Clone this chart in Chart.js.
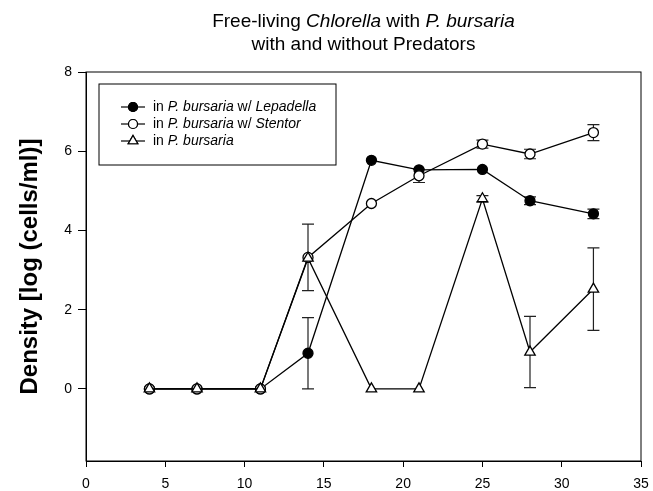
<!DOCTYPE html>
<html>
<head>
<meta charset="utf-8">
<script src="https://cdn.jsdelivr.net/npm/chart.js@4.4.0/dist/chart.umd.min.js"></script>
<style>
  html, body { margin: 0; padding: 0; background: #fff; }
  #wrap { width: 653px; height: 491px; }
</style>
</head>
<body>
<div id="wrap"><canvas id="chart"></canvas></div>
<script>
// days of sampling
const days = [4, 7, 11, 14, 18, 21, 25, 28, 32];
// log density
const lepadella    = [0, 0, 0, 0.9, 5.77, 5.53, 5.54, 4.75, 4.42];
const lepadellaErr = [0, 0, 0, 0.9, 0, 0, 0, 0.1, 0.12];
const stentor      = [0, 0, 0, 3.32, 4.68, 5.38, 6.18, 5.93, 6.47];
const stentorErr   = [0, 0, 0, 0.84, 0, 0.17, 0.1, 0.12, 0.2];
const bursaria     = [0, 0, 0, 3.3, 0, 0, 4.8, 0.93, 2.52];
const bursariaErr  = [0, 0, 0, 0, 0, 0, 0.08, 0.9, 1.04];
const yTicks = [0, 2, 4, 6, 8];

const FONT = 'Arial, "Liberation Sans", sans-serif';

const toPoints = (vals) => vals.map((v, i) => ({ x: days[i], y: v }));

// error bars + frame
const errorBars = {
  id: 'errorBars',
  beforeDatasetsDraw(chart) {
    const { ctx, scales: { x, y } } = chart;
    ctx.save();
    ctx.strokeStyle = '#222';
    ctx.lineWidth = 1.2;
    chart.data.datasets.forEach((ds) => {
      ds.err.forEach((e, i) => {
        if (!e) return;
        const px = x.getPixelForValue(days[i]);
        const top = y.getPixelForValue(ds.data[i].y + e);
        const bot = y.getPixelForValue(Math.max(ds.data[i].y - e, 0));
        ctx.beginPath();
        ctx.moveTo(px, top); ctx.lineTo(px, bot);
        ctx.moveTo(px - 6, top); ctx.lineTo(px + 6, top);
        ctx.moveTo(px - 6, bot); ctx.lineTo(px + 6, bot);
        ctx.stroke();
      });
    });
    ctx.restore();
  },
  afterDraw(chart) {
    const { ctx, chartArea: a } = chart;
    ctx.save();
    ctx.strokeStyle = '#000';
    ctx.lineWidth = 1;
    ctx.strokeRect(a.left, a.top, a.right - a.left, a.bottom - a.top);
    ctx.restore();
  }
};

// draw a run of text pieces, some italic
function drawRuns(ctx, runs, x, y, size, align) {
  const fontOf = (it) => (it ? 'italic ' : '') + size + 'px ' + FONT;
  let total = 0;
  runs.forEach(([t, it]) => { ctx.font = fontOf(it); total += ctx.measureText(t).width; });
  let cx = align === 'center' ? x - total / 2 : x;
  ctx.textAlign = 'left';
  ctx.textBaseline = 'middle';
  runs.forEach(([t, it]) => {
    ctx.font = fontOf(it);
    ctx.fillText(t, cx, y);
    cx += ctx.measureText(t).width;
  });
}

const titleLegend = {
  id: 'titleLegend',
  afterDraw(chart) {
    const { ctx, chartArea: a } = chart;
    ctx.save();
    ctx.fillStyle = '#000';
    const mid = (a.left + a.right) / 2;
    drawRuns(ctx, [['Free-living ', false], ['Chlorella', true], [' with ', false], ['P. bursaria', true]], mid, 22, 19, 'center');
    drawRuns(ctx, [['with and without Predators', false]], mid, 45, 19, 'center');

    // legend box
    const bx = a.left + 13, by = a.top + 12, bw = 237, bh = 81;
    ctx.strokeStyle = '#000';
    ctx.lineWidth = 1;
    ctx.strokeRect(bx, by, bw, bh);
    const rows = [
      { runs: [['in ', false], ['P. bursaria', true], [' w/ ', false], ['Lepadella', true]], style: 'circle', fill: '#000' },
      { runs: [['in ', false], ['P. bursaria', true], [' w/ ', false], ['Stentor', true]], style: 'circle', fill: '#fff' },
      { runs: [['in ', false], ['P. bursaria', true]], style: 'triangle', fill: '#fff' }
    ];
    rows.forEach((r, i) => {
      const ry = by + 23 + i * 17;
      ctx.strokeStyle = '#000';
      ctx.lineWidth = 1.2;
      ctx.beginPath();
      ctx.moveTo(bx + 22, ry); ctx.lineTo(bx + 46, ry);
      ctx.stroke();
      ctx.fillStyle = r.fill;
      Chart.helpers.drawPoint(ctx, { pointStyle: r.style, radius: r.style === 'triangle' ? 5.5 : 4.5, borderWidth: 1.3 }, bx + 34, ry);
      ctx.fill();
      ctx.stroke();
      ctx.fillStyle = '#000';
      drawRuns(ctx, r.runs, bx + 54, ry, 14, 'left');
    });
    ctx.restore();
  }
};

const base = {
  borderColor: '#000',
  borderWidth: 1.3,
  pointBorderColor: '#000',
  pointBorderWidth: 1.3,
  showLine: true,
  tension: 0
};

new Chart(document.getElementById('chart'), {
  type: 'scatter',
  data: {
    datasets: [
      { ...base, label: 'in P. bursaria w/ Lepadella', data: toPoints(lepadella), err: lepadellaErr, order: 3,
        pointStyle: 'circle', pointRadius: 5, pointBackgroundColor: '#000' },
      { ...base, label: 'in P. bursaria w/ Stentor', data: toPoints(stentor), err: stentorErr, order: 2,
        pointStyle: 'circle', pointRadius: 5, pointBackgroundColor: '#fff' },
      { ...base, label: 'in P. bursaria', data: toPoints(bursaria), err: bursariaErr, order: 1,
        pointStyle: 'triangle', pointRadius: 6, pointBackgroundColor: '#fff' }
    ]
  },
  options: {
    responsive: true,
    maintainAspectRatio: false,
    animation: false,
    layout: { padding: { left: 16, right: 12, top: 72, bottom: 0 } },
    plugins: { legend: { display: false }, tooltip: { enabled: false } },
    scales: {
      x: {
        type: 'linear',
        min: 0, max: 35,
        ticks: { stepSize: 5, color: '#000', font: { family: FONT, size: 14 }, padding: 9, maxRotation: 0 },
        grid: { drawOnChartArea: false, drawTicks: true, tickLength: 6, color: '#000' },
        border: { display: true, color: '#000', width: 1 },
        afterFit: (s) => { s.height = 30; s.paddingLeft = 0; s.paddingRight = 0; }
      },
      y: {
        type: 'linear',
        min: -1.82, max: 8,
        afterBuildTicks: (s) => { s.ticks = yTicks.map((v) => ({ value: v })); },
        ticks: { color: '#000', font: { family: FONT, size: 14 }, padding: 6 },
        grid: { drawOnChartArea: false, drawTicks: true, tickLength: 8, color: '#000' },
        border: { display: true, color: '#000', width: 1 },
        title: { display: true, text: 'Density [log (cells/ml)]', color: '#000',
                 font: { family: FONT, size: 24, weight: 'bold' }, padding: { top: 0, bottom: 0 } },
        afterFit: (s) => { s.width = 70; }
      }
    }
  },
  plugins: [errorBars, titleLegend]
});
</script>
</body>
</html>
